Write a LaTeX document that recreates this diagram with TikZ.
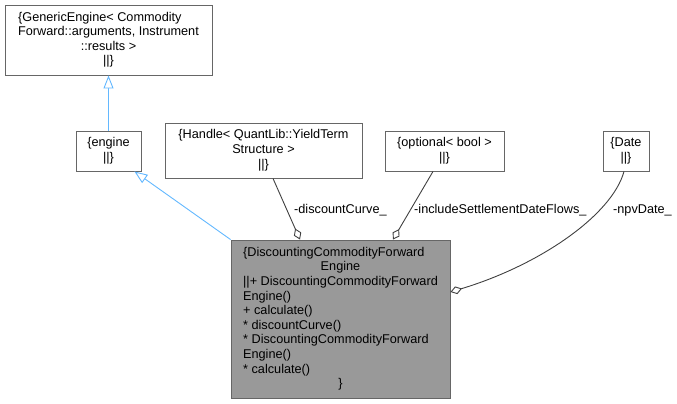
\documentclass[tikz,border=0pt]{standalone}
\usepackage{fontspec}
\setmainfont{Liberation Sans}
\usetikzlibrary{arrows.meta}
\definecolor{boxline}{HTML}{666666}
\definecolor{mainfill}{HTML}{999999}
\definecolor{inhcol}{HTML}{63B8FF}
\definecolor{aggcol}{HTML}{404040}
\tikzset{
  cls/.style={draw=boxline, fill=white, inner sep=0pt, line width=0.9pt,
    font=\fontsize{12.7}{14.6}\selectfont},
  mainbox/.style={cls, fill=mainfill},
  inh/.style={draw=inhcol, line width=0.9pt, -{Triangle[open, length=13pt, width=10pt, fill=white]}},
  agg/.style={draw=aggcol, line width=0.9pt, -{Diamond[open, length=12pt, width=8pt, fill=white]}},
  lbl/.style={anchor=west, inner sep=0pt, font=\fontsize{12.7}{14.6}\selectfont}
}
\newcommand{\mytab}[2]{\renewcommand{\arraystretch}{1}\begin{tabular}{@{}#1@{}}#2\end{tabular}}
\begin{document}
\begin{tikzpicture}[x=1pt, y=-1pt]
\useasboundingbox (0,0) rectangle (677,404);

\node[cls, minimum width=207pt, minimum height=70pt] (gen) at (108.5,40)
  {\mytab{c}{\multicolumn{1}{@{}l@{}}{\{GenericEngine< Commodity}\\\multicolumn{1}{@{}l@{}}{Forward::arguments, Instrument}\\::results >\\||\}}};
\node[cls, minimum width=65pt, minimum height=40pt] (engine) at (108.5,151)
  {\mytab{c}{\{engine\\||\}}};
\node[cls, minimum width=197pt, minimum height=55pt] (handle) at (263.5,150.5)
  {\mytab{c}{\{Handle< QuantLib::YieldTerm\\Structure >\\||\}}};
\node[cls, minimum width=119pt, minimum height=40pt] (optional) at (444.5,151)
  {\mytab{c}{\{optional< bool >\\||\}}};
\node[cls, minimum width=46pt, minimum height=40pt] (date) at (626,151)
  {\mytab{c}{\{Date\\||\}}};
\node[mainbox, minimum width=219pt, minimum height=158pt] (main) at (340.5,319)
  {\mytab{l}{\{DiscountingCommodityForward\\\multicolumn{1}{@{}c@{}}{Engine}\\||+ DiscountingCommodityForward\\Engine()\\+ calculate()\\{}* discountCurve()\\{}* DiscountingCommodityForward\\Engine()\\{}* calculate()\\\multicolumn{1}{@{}c@{}}{\}}}};

\draw[inh] (engine) -- (gen);
\draw[inh] (main.north west) -- ([xshift=-7pt]engine.south east);
\draw[agg] ([xshift=9.5pt]handle.south) -- ([xshift=-40.5pt]main.north);
\draw[agg] ([xshift=-11.5pt]optional.south) -- ([xshift=52.5pt]main.north);
\draw[agg] ([xshift=-2pt]date.south) .. controls (612,215) and (540,265) .. ([yshift=27pt]main.east);

\node[lbl] (l1) at (294,210) {-discountCurve\_};
\node[lbl] (l2) at (414,210) {-includeSettlementDateFlows\_};
\node[lbl] (l3) at (613,210) {-npvDate\_};
\end{tikzpicture}
\end{document}
